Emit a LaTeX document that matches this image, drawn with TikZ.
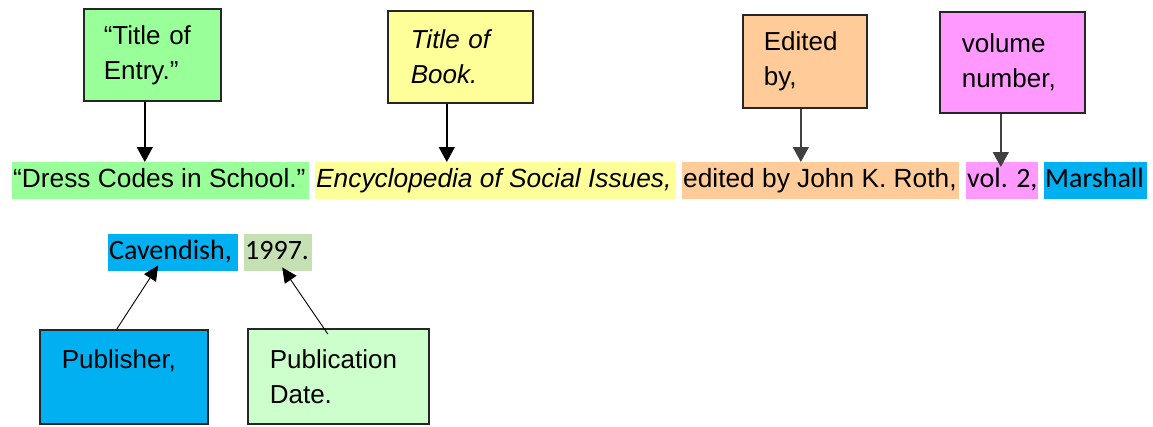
\documentclass[tikz,border=0pt]{standalone}
\usepackage{fontspec}
\setmainfont{Liberation Sans}
\newfontfamily\calfont{Carlito}
\usetikzlibrary{arrows.meta}
\definecolor{cgreen}{HTML}{99FF99}
\definecolor{cyellow}{HTML}{FFFF99}
\definecolor{corange}{HTML}{FFCC99}
\definecolor{cpink}{HTML}{FF99FF}
\definecolor{cblue}{HTML}{00B0F0}
\definecolor{clight}{HTML}{CCFFCC}
\definecolor{cdate}{HTML}{C5E0B3}
\definecolor{cline}{HTML}{404040}
\newcommand{\hlbox}[2]{\makebox[#1][l]{\strut #2}}
\tikzset{
  labelbox/.style={draw=black!85, line width=1.6pt, anchor=north west, inner ysep=0pt,
    align=left, font=\fontsize{26}{35}\selectfont},
  hilite/.style={anchor=north west, inner ysep=0pt, inner xsep=1pt, minimum height=37pt,
    font=\fontsize{26.3}{34}\selectfont},
  calhl/.style={hilite, font=\calfont\fontsize{28}{34}\selectfont},
  downarrow/.style={line width=1.5pt, -{Triangle[width=16pt,length=15pt]}},
  uparrow/.style={line width=0.9pt, -{Triangle[width=14pt,length=15pt]}}
}
\begin{document}
\begin{tikzpicture}[x=1pt,y=-1pt]
\useasboundingbox[fill=white] (0,0) rectangle (1153,426);
% label boxes
\node[labelbox, fill=cgreen, minimum width=137pt, minimum height=92pt, inner xsep=20pt, text width=97pt] (b1) at (83,8) {“Title of\\Entry.”};
\node[labelbox, fill=cyellow, minimum width=145pt, minimum height=92pt, inner xsep=23pt, text width=99pt] (b2) at (387,10) {\itshape Title of\\\itshape Book.};
\node[labelbox, fill=corange, minimum width=124pt, minimum height=93pt, inner xsep=21pt, text width=82pt] (b3) at (742,14) {Edited\\by,};
\node[labelbox, fill=cpink, minimum width=145pt, minimum height=101pt, inner xsep=22pt, text width=101pt] (b4) at (939,11) {volume\\number,};
\node[labelbox, fill=cblue, minimum width=168pt, minimum height=94pt, inner xsep=22pt, text width=124pt] (b5) at (39,329) {Publisher,\\\mbox{}};
\node[labelbox, fill=clight, minimum width=181pt, minimum height=95pt, inner xsep=22pt, text width=137pt] (b6) at (247,328) {Publication\\Date.};
% highlighted citation
\node[hilite, fill=cgreen] (h1) at (12,162) {\hlbox{295pt}{“Dress Codes in School.”}};
\node[hilite, fill=cyellow] (h2) at (315,162) {\hlbox{359pt}{\itshape Encyclopedia of Social Issues,}};
\node[hilite, fill=corange] (h3) at (682,162) {\hlbox{275pt}{edited by John K. Roth,}};
\node[calhl, fill=cpink] (h4) at (966,162) {\hlbox{70pt}{vol. 2,}};
\node[calhl, fill=cblue] (h5) at (1044,162) {\hlbox{101pt}{Marshall}};
\node[calhl, fill=cblue] (h6) at (108,234) {\hlbox{128pt}{Cavendish,}};
\node[calhl, fill=cdate] (h7) at (244,234) {\hlbox{66pt}{1997.}};
% arrows
\coordinate (s1) at ([xshift=-7.5pt]b1.south);
\coordinate (s2) at ([xshift=-13.5pt]b2.south);
\coordinate (s3) at ([xshift=-4pt]b3.south);
\coordinate (s4) at ([xshift=-11.5pt]b4.south);
\draw[downarrow, black] (s1) -- (s1 |- h1.north);
\draw[downarrow, black] (s2) -- (s2 |- h2.north);
\draw[downarrow, cline] (s3) -- (s3 |- h3.north);
\draw[downarrow, cline] (s4) -- ([yshift=-5pt]s4 |- h4.north);
\draw[uparrow] ([xshift=-7pt]b5.north) -- ([xshift=-15pt,yshift=6pt]h6.south);
\draw[uparrow] ([xshift=-10.5pt,yshift=-6pt]b6.north) -- ([xshift=4pt,yshift=4pt]h7.south);
\end{tikzpicture}
\end{document}
